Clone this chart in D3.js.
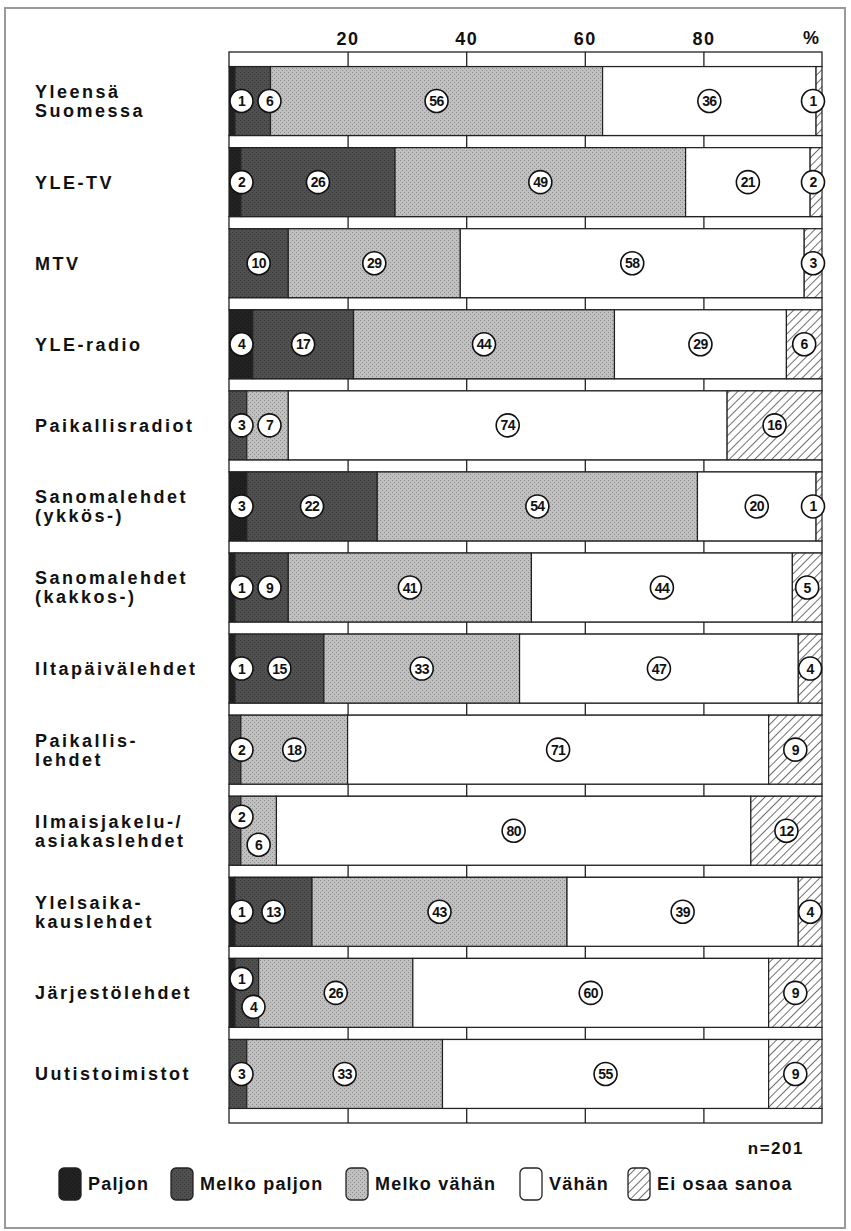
<!DOCTYPE html>
<html>
<head>
<meta charset="utf-8">
<script src="https://cdn.jsdelivr.net/npm/d3@7"></script>
<style>
  body { margin: 0; background: #fff; }
  svg { display: block; font-family: "Liberation Sans", Arial, sans-serif; }
</style>
</head>
<body>
<div id="chart"></div>
<script>
// categories (rows), two-line labels split by "|"
var categories = ["Yleensä|Suomessa", "YLE-TV", "MTV", "YLE-radio", "Paikallisradiot",
  "Sanomalehdet|(ykkös-)", "Sanomalehdet|(kakkos-)", "Iltapäivälehdet", "Paikallis-|lehdet",
  "Ilmaisjakelu-/|asiakaslehdet", "Ylelsaika-|kauslehdet", "Järjestölehdet", "Uutistoimistot"];

var seriesNames = ["Paljon", "Melko paljon", "Melko vähän", "Vähän", "Ei osaa sanoa"];

var paljon      = [1, 2, 0, 4, 0, 3, 1, 1, 0, 0, 1, 1, 0];
var melkoPaljon = [6, 26, 10, 17, 3, 22, 9, 15, 2, 2, 13, 4, 3];
var melkoVahan  = [56, 49, 29, 44, 7, 54, 41, 33, 18, 6, 43, 26, 33];
var vahan       = [36, 21, 58, 29, 74, 20, 44, 47, 71, 80, 39, 60, 55];
var eiOsaa      = [1, 2, 3, 6, 16, 1, 5, 4, 9, 12, 4, 9, 9];

var tickValues = [20, 40, 60, 80];
var staggered = ["Ilmaisjakelu-/|asiakaslehdet", "Järjestölehdet"];
var nLabel = "n=201";

var W = 851, H = 1231;
var plot = {left: 229, right: 822, top: 52, bottom: 1123};

var svg = d3.select("#chart").append("svg")
    .attr("width", W)
    .attr("height", H);

var defs = svg.append("defs");

// stippled fills
function stipple(id, base, dot) {
  var p = defs.append("pattern")
      .attr("id", id)
      .attr("patternUnits", "userSpaceOnUse")
      .attr("width", 4).attr("height", 4);
  p.append("rect").attr("width", 4).attr("height", 4).attr("fill", base);
  p.append("rect").attr("x", 0).attr("y", 0).attr("width", 1).attr("height", 1).attr("fill", dot);
  p.append("rect").attr("x", 2).attr("y", 2).attr("width", 1).attr("height", 1).attr("fill", dot);
}
stipple("st0", "#222", "#151515");
stipple("st1", "#505050", "#363636");
stipple("st2", "#c0c0c0", "#8c8c8c");

var hatch = defs.append("pattern")
    .attr("id", "hatch")
    .attr("patternUnits", "userSpaceOnUse")
    .attr("width", 6).attr("height", 6)
    .attr("patternTransform", "rotate(45)");
hatch.append("rect").attr("width", 6).attr("height", 6).attr("fill", "#fff");
hatch.append("line").attr("x1", 0).attr("y1", 0).attr("x2", 0).attr("y2", 6)
    .attr("stroke", "#222").attr("stroke-width", 1.3);

var fills = ["url(#st0)", "url(#st1)", "url(#st2)", "#fff", "url(#hatch)"];

// outer frame
svg.append("rect")
    .attr("x", 5).attr("y", 8)
    .attr("width", 840).attr("height", 1220)
    .attr("fill", "none")
    .attr("stroke", "#999")
    .attr("stroke-width", 2);

var x = d3.scaleLinear()
    .domain([0, 100])
    .range([plot.left, plot.right]);

var y = d3.scaleBand()
    .domain(categories)
    .range([plot.top, plot.bottom])
    .paddingInner(0.15)
    .paddingOuter(0.18);

var step = y.step(), innerH = step * 0.15, outerH = step * 0.18;

// rulers between the bars
var rulers = [{y: plot.top, h: outerH}];
categories.slice(1).forEach(function(c) {
  rulers.push({y: y(c) - innerH, h: innerH});
});
rulers.push({y: plot.bottom - outerH, h: outerH});

rulers.forEach(function(r, i) {
  var g = svg.append("g").attr("class", "ruler");
  g.append("rect")
    .attr("x", x(0)).attr("y", r.y)
    .attr("width", x(100) - x(0)).attr("height", r.h)
    .attr("fill", "#fff").attr("stroke", "#222").attr("stroke-width", 1.3);
  var ax = g.append("g")
    .attr("transform", "translate(0," + (r.y + r.h) + ")")
    .call(d3.axisTop(x).tickValues(tickValues).tickSize(r.h).tickPadding(7)
      .tickFormat(i === 0 ? d3.format("d") : ""));
  ax.select(".domain").remove();
  ax.selectAll(".tick line").attr("stroke", "#222").attr("stroke-width", 1.3);
  ax.selectAll(".tick text")
    .attr("font-family", "'Liberation Sans', Arial, sans-serif")
    .attr("font-size", 18).attr("font-weight", "bold").attr("fill", "#111")
    .attr("letter-spacing", 1.5)
    .attr("dy", "0");
});

svg.append("text")
    .attr("x", 811).attr("y", plot.top - 7 - 14)
    .attr("dy", "0.71em")
    .attr("text-anchor", "middle")
    .attr("font-size", 18).attr("font-weight", "bold").attr("fill", "#111")
    .text("%");

// stacked data
var rows = categories.map(function(c, i) {
  var vals = [paljon[i], melkoPaljon[i], melkoVahan[i], vahan[i], eiOsaa[i]];
  var acc = 0;
  var segs = vals.map(function(v, k) {
    var s = {cat: c, k: k, v: v, x0: acc, x1: acc + v};
    acc += v;
    return s;
  });
  return {cat: c, segs: segs};
});

var rowG = svg.selectAll("g.row")
    .data(rows)
    .enter().append("g")
    .attr("class", "row");

rowG.selectAll("rect")
    .data(function(d) { return d.segs.filter(function(s) { return s.v > 0; }); })
    .enter().append("rect")
    .attr("x", function(d) { return x(d.x0); })
    .attr("y", function(d) { return y(d.cat); })
    .attr("width", function(d) { return x(d.x1) - x(d.x0); })
    .attr("height", y.bandwidth())
    .attr("fill", function(d) { return fills[d.k]; })
    .attr("stroke", "#222")
    .attr("stroke-width", 1.2);

// value circles
rows.forEach(function(r) {
  var segs = r.segs.filter(function(s) { return s.v > 0; });
  var cy = y(r.cat) + y.bandwidth() / 2;
  var prev = -Infinity;
  var stag = staggered.indexOf(r.cat) >= 0;
  segs.forEach(function(s, j) {
    var cx = (x(s.x0) + x(s.x1)) / 2;
    cx = Math.max(cx, x(0) + 12.5, prev + (stag ? 12 : 28));
    if (j === segs.length - 1) cx = Math.min(cx, x(100) - 9);
    prev = cx;
    var yy = cy;
    if (stag && j < 2) yy = cy + (j === 0 ? -14 : 14);
    var g = svg.append("g").attr("transform", "translate(" + cx + "," + yy + ")");
    g.append("circle").attr("r", 11.5)
      .attr("fill", "#fff").attr("stroke", "#111").attr("stroke-width", 1.6);
    g.append("text")
      .attr("text-anchor", "middle").attr("dy", "0.36em")
      .attr("font-size", 14).attr("font-weight", "bold").attr("fill", "#111")
      .attr("letter-spacing", -0.6)
      .text(s.v);
  });
});

// category labels
rows.forEach(function(r) {
  var lines = r.cat.split("|");
  var cy = y(r.cat) + y.bandwidth() / 2;
  var t = svg.append("text")
    .attr("font-size", 18).attr("font-weight", "bold").attr("fill", "#111")
    .attr("letter-spacing", 2.5);
  lines.forEach(function(l, i) {
    t.append("tspan")
      .attr("x", 35)
      .attr("y", cy + (i - (lines.length - 1) / 2) * 19)
      .attr("dy", "0.36em")
      .text(l);
  });
});

// n label
svg.append("text")
    .attr("x", 804).attr("y", 1154)
    .attr("text-anchor", "end")
    .attr("font-size", 17).attr("font-weight", "bold").attr("fill", "#111")
    .attr("letter-spacing", 1.5)
    .text(nLabel);

// legend
var legendX = [59, 171, 346, 520, 628];
var lg = svg.append("g").attr("transform", "translate(0,1184)");
seriesNames.forEach(function(name, k) {
  lg.append("rect")
    .attr("x", legendX[k]).attr("y", -16)
    .attr("width", 22).attr("height", 32).attr("rx", 5)
    .attr("fill", fills[k]).attr("stroke", "#222").attr("stroke-width", 1.3);
  lg.append("text")
    .attr("x", legendX[k] + 29).attr("y", 0).attr("dy", "0.36em")
    .attr("font-size", 18).attr("font-weight", "bold").attr("fill", "#111")
    .attr("letter-spacing", 1.2)
    .text(name);
});
</script>
</body>
</html>
